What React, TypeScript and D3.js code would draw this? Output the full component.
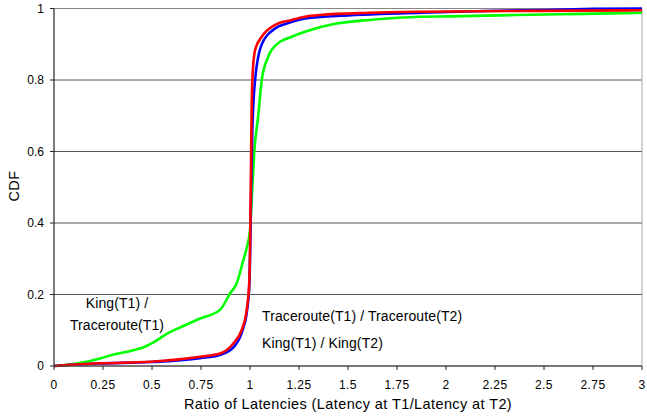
import React from "react";
import * as d3 from "d3";

const xTicks = [0, 0.25, 0.5, 0.75, 1, 1.25, 1.5, 1.75, 2, 2.25, 2.5, 2.75, 3];
const xTickLabels = ["0", "0.25", "0.5", "0.75", "1", "1.25", "1.5", "1.75", "2", "2.25", "2.5", "2.75", "3"];
const yTicks = [0, 0.2, 0.4, 0.6, 0.8, 1];
const yTickLabels = ["0", "0.2", "0.4", "0.6", "0.8", "1"];

// King(T1)/Traceroute(T1) — green
const greenX = [0, 0.13, 0.235, 0.29, 0.405, 0.46, 0.507, 0.575, 0.66, 0.745, 0.847, 0.898, 0.932, 0.966, 0.983, 1.0, 1.012, 1.022, 1.042, 1.06, 1.093, 1.144, 1.213, 1.28, 1.44, 1.61, 1.87, 2.02, 2.36, 2.7, 3.0];
const greenY = [0, 0.008, 0.021, 0.03, 0.044, 0.053, 0.066, 0.09, 0.112, 0.133, 0.157, 0.203, 0.231, 0.296, 0.33, 0.38, 0.5, 0.6, 0.7, 0.8, 0.865, 0.903, 0.921, 0.935, 0.958, 0.968, 0.977, 0.978, 0.982, 0.985, 0.988];

// King(T1)/King(T2) — blue
const blueX = [0, 0.05, 0.235, 0.49, 0.745, 0.847, 0.92, 0.962, 0.986, 0.997, 1.001, 1.006, 1.012, 1.026, 1.06, 1.128, 1.187, 1.28, 1.44, 1.87, 2.2, 2.5, 2.75, 3.0];
const blueY = [0, 0.002, 0.007, 0.011, 0.022, 0.031, 0.055, 0.1, 0.16, 0.231, 0.324, 0.5, 0.66, 0.8, 0.9, 0.944, 0.958, 0.972, 0.979, 0.988, 0.993, 0.996, 0.999, 1.0];

// Traceroute(T1)/Traceroute(T2) — red
const redX = [0, 0.05, 0.235, 0.49, 0.745, 0.847, 0.915, 0.957, 0.983, 0.996, 1.0, 1.004, 1.007, 1.012, 1.026, 1.06, 1.128, 1.213, 1.28, 1.357, 1.61, 1.867, 2.3, 2.7, 3.0];
const redY = [0, 0.002, 0.0075, 0.012, 0.026, 0.035, 0.063, 0.1, 0.157, 0.231, 0.324, 0.5, 0.66, 0.8, 0.884, 0.921, 0.954, 0.968, 0.977, 0.982, 0.988, 0.991, 0.993, 0.994, 0.995];

const W = 647;
const H = 419;
const left = 54;
const right = 642;
const top = 8.5;
const bottom = 366;

export default function App() {
  const x = d3.scaleLinear().domain([0, 3]).range([left, right]);
  const y = d3.scaleLinear().domain([0, 1]).range([bottom, top]);
  const line = d3
    .line<[number, number]>()
    .x((d) => x(d[0]))
    .y((d) => y(d[1]))
    .curve(d3.curveMonotoneX);
  const series = [
    { xs: greenX, ys: greenY, color: "#00ff00" },
    { xs: blueX, ys: blueY, color: "#0000ff" },
    { xs: redX, ys: redY, color: "#ff0000" },
  ];
  const font = "'Liberation Sans', Arial, sans-serif";
  return (
    <svg
      width={W}
      height={H}
      style={{ position: "absolute", left: 0, top: 0, background: "#fff" }}
      fontFamily={font}
    >
      <rect x={0} y={0} width={W} height={H} fill="#fff" />
      {yTicks.map((t) => (
        <line key={"g" + t} x1={left} x2={right} y1={y(t)} y2={y(t)} stroke={t === 1 ? "#888" : "#555"} strokeWidth={1} />
      ))}
      <line x1={right} x2={right} y1={top} y2={bottom} stroke="#aaa" strokeWidth={1} />
      {series.map((s, i) => (
        <path
          key={i}
          d={line(s.xs.map((v, j) => [v, s.ys[j]] as [number, number])) || ""}
          fill="none"
          stroke={s.color}
          strokeWidth={2.6}
          strokeLinejoin="round"
        />
      ))}
      <line x1={left} x2={left} y1={top} y2={bottom} stroke="#222" strokeWidth={1.2} />
      <line x1={left} x2={right} y1={bottom} y2={bottom} stroke="#444" strokeWidth={1.2} />
      {yTicks.map((t, i) => (
        <g key={"y" + t}>
          <line x1={left - 4} x2={left} y1={y(t)} y2={y(t)} stroke="#222" />
          <text x={44} y={y(t) + 4} fontSize={12} textAnchor="end" fill="#000">
            {yTickLabels[i]}
          </text>
        </g>
      ))}
      {xTicks.map((t, i) => (
        <g key={"x" + t}>
          <line x1={x(t)} x2={x(t)} y1={bottom} y2={bottom + 4} stroke="#222" />
          <text x={x(t)} y={389} fontSize={12} letterSpacing={0.4} textAnchor="middle" fill="#000">
            {xTickLabels[i]}
          </text>
        </g>
      ))}
      <text x={348} y={408.5} fontSize={14.5} letterSpacing={0.4} textAnchor="middle" fill="#000">
        Ratio of Latencies (Latency at T1/Latency at T2)
      </text>
      <text transform={`translate(18.5,186) rotate(-90)`} fontSize={14.5} letterSpacing={0.4} textAnchor="middle" fill="#000">
        CDF
      </text>
      <text x={117} y={308} fontSize={14} letterSpacing={0.1} textAnchor="middle" fill="#000">
        King(T1) /
      </text>
      <text x={117} y={330} fontSize={14} letterSpacing={0.1} textAnchor="middle" fill="#000">
        Traceroute(T1)
      </text>
      <text x={262} y={321} fontSize={14} letterSpacing={0.1} fill="#000">
        Traceroute(T1) / Traceroute(T2)
      </text>
      <text x={262} y={348} fontSize={14} letterSpacing={0.1} fill="#000">
        King(T1) / King(T2)
      </text>
    </svg>
  );
}
